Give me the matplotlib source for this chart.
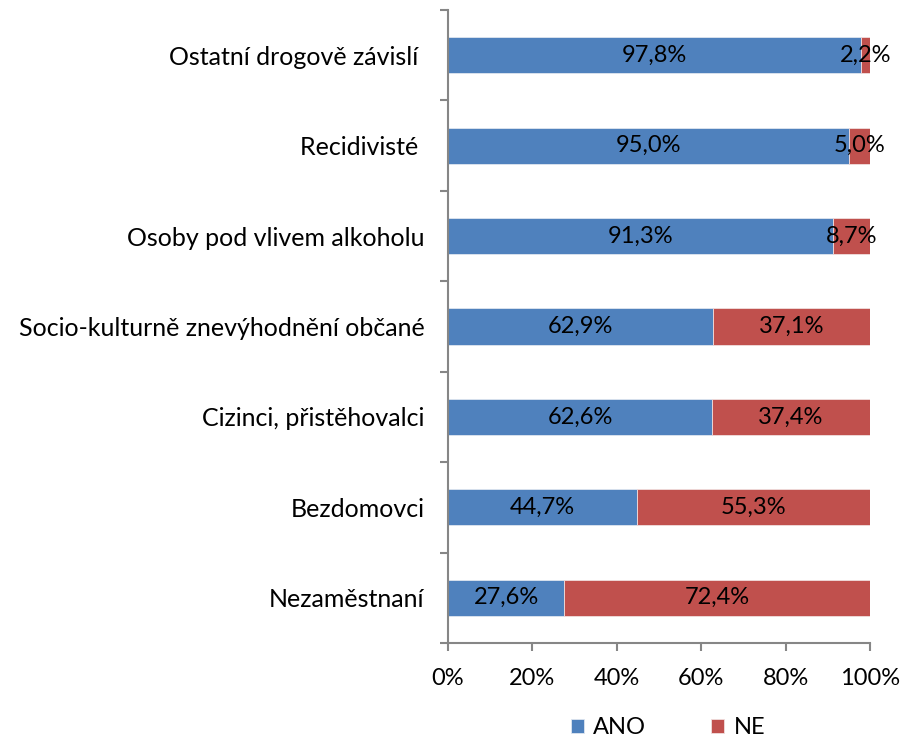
import numpy as np
import matplotlib
matplotlib.use("Agg")
from matplotlib import pyplot as plt
from matplotlib.ticker import FixedLocator

plt.rcParams['font.family'] = ['Lato', 'DejaVu Sans']

# data (top to bottom as in picture)
categories = ['Ostatní drogově závislí ', 'Recidivisté ', 'Osoby pod vlivem alkoholu',
              'Socio-kulturně znevýhodnění občané', 'Cizinci, přistěhovalci',
              'Bezdomovci', 'Nezaměstnaní']
ano = [97.8, 95.0, 91.3, 62.9, 62.6, 44.7, 27.6]
ne = [2.2, 5.0, 8.7, 37.1, 37.4, 55.3, 72.4]
xticks = [0, 20, 40, 60, 80, 100]

blue = '#4F81BD'
red = '#C0504D'
axis_col = '#868686'

fig = plt.figure(figsize=(9.15, 7.41), dpi=100)
ax = fig.add_axes([448/915, 1-643/741, 422/915, 633/741])

y = np.arange(len(categories))[::-1]
ax.barh(y, ano, height=0.4, color=blue, edgecolor='#dfe6f0', linewidth=0.6, label='ANO')
ax.barh(y, ne, left=ano, height=0.4, color=red, edgecolor='#f0dede', linewidth=0.6, label='NE')

fs = 17
for yi, a, n in zip(y, ano, ne):
    ax.text(a/2, yi, f'{a:.1f}%'.replace('.', ','), ha='center', va='center', fontsize=fs)
    ax.text(a + n/2, yi, f'{n:.1f}%'.replace('.', ','), ha='center', va='center', fontsize=fs)

ax.set_xlim(0, 100)
ax.set_ylim(-0.5, len(categories) - 0.5)
ax.set_xticks(xticks)
ax.set_xticklabels([f'{t}%' for t in xticks], fontsize=fs)
ax.set_yticks(y)
ax.set_yticklabels(categories, fontsize=18)
ax.yaxis.set_minor_locator(FixedLocator(np.arange(len(categories) + 1) - 0.5))
ax.tick_params(axis='y', which='major', length=0, pad=17)
ax.tick_params(axis='y', which='minor', length=6, width=1.5, color=axis_col)
ax.tick_params(axis='x', which='major', length=6, width=1.5, color=axis_col, pad=12)

for s in ['top', 'right']:
    ax.spines[s].set_visible(False)
for s in ['left', 'bottom']:
    ax.spines[s].set_color(axis_col)
    ax.spines[s].set_linewidth(1.5)

fig.legend(loc='lower center', bbox_to_anchor=(668/915, -0.025), ncol=2, frameon=False,
           fontsize=fs, handlelength=0.55, handleheight=0.55, columnspacing=2.75, handletextpad=0.4)

fig.savefig('out.png', dpi=100)
